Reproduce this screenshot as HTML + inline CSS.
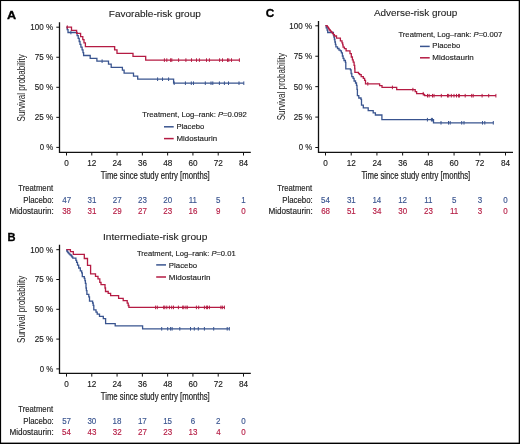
<!DOCTYPE html>
<html><head><meta charset="utf-8"><title>Kaplan-Meier survival by risk group</title><style>html,body{margin:0;padding:0;background:#fff;width:520px;height:444px;overflow:hidden;font-family:"Liberation Sans",sans-serif}</style></head><body>
<svg width="520" height="444" viewBox="0 0 520 444" style="position:absolute;left:0;top:0;will-change:transform" font-family='"Liberation Sans", sans-serif' fill="#1c1c1c">
<rect x="0" y="0" width="520" height="444" fill="#fff"/>
<path d="M59.50 22.30V152.30H250.80" fill="none" stroke="#111" stroke-width="1.3"/>
<path d="M56.30 147.40H59.50M56.30 117.35H59.50M56.30 87.30H59.50M56.30 57.25H59.50M56.30 27.20H59.50M66.50 152.30V155.50M91.79 152.30V155.50M117.07 152.30V155.50M142.36 152.30V155.50M167.64 152.30V155.50M192.93 152.30V155.50M218.21 152.30V155.50M243.50 152.30V155.50" fill="none" stroke="#111" stroke-width="1"/>
<text x="39.69" y="150.25" font-size="8.6" textLength="13.38" lengthAdjust="spacingAndGlyphs" stroke="#1c1c1c" stroke-width="0.15">0 %</text>
<text x="34.70" y="120.20" font-size="8.6" textLength="18.39" lengthAdjust="spacingAndGlyphs" stroke="#1c1c1c" stroke-width="0.15">25 %</text>
<text x="34.78" y="90.15" font-size="8.6" textLength="18.30" lengthAdjust="spacingAndGlyphs" stroke="#1c1c1c" stroke-width="0.15">50 %</text>
<text x="34.68" y="60.10" font-size="8.6" textLength="18.41" lengthAdjust="spacingAndGlyphs" stroke="#1c1c1c" stroke-width="0.15">75 %</text>
<text x="30.29" y="30.05" font-size="8.6" textLength="22.80" lengthAdjust="spacingAndGlyphs" stroke="#1c1c1c" stroke-width="0.15">100 %</text>
<text x="64.32" y="165.60" font-size="8.6" textLength="4.54" lengthAdjust="spacingAndGlyphs" stroke="#1c1c1c" stroke-width="0.15">0</text>
<text x="87.24" y="165.60" font-size="8.6" textLength="9.09" lengthAdjust="spacingAndGlyphs" stroke="#1c1c1c" stroke-width="0.15">12</text>
<text x="112.55" y="165.60" font-size="8.6" textLength="9.09" lengthAdjust="spacingAndGlyphs" stroke="#1c1c1c" stroke-width="0.15">24</text>
<text x="137.94" y="165.60" font-size="8.6" textLength="9.09" lengthAdjust="spacingAndGlyphs" stroke="#1c1c1c" stroke-width="0.15">36</text>
<text x="163.29" y="165.60" font-size="8.6" textLength="9.09" lengthAdjust="spacingAndGlyphs" stroke="#1c1c1c" stroke-width="0.15">48</text>
<text x="188.44" y="165.60" font-size="8.6" textLength="9.09" lengthAdjust="spacingAndGlyphs" stroke="#1c1c1c" stroke-width="0.15">60</text>
<text x="213.76" y="165.60" font-size="8.6" textLength="9.09" lengthAdjust="spacingAndGlyphs" stroke="#1c1c1c" stroke-width="0.15">72</text>
<text x="239.00" y="165.60" font-size="8.6" textLength="9.09" lengthAdjust="spacingAndGlyphs" stroke="#1c1c1c" stroke-width="0.15">84</text>
<path d="M59.50 244.80V373.40H250.80" fill="none" stroke="#111" stroke-width="1.3"/>
<path d="M56.30 368.90H59.50M56.30 339.10H59.50M56.30 309.30H59.50M56.30 279.50H59.50M56.30 249.70H59.50M66.50 373.40V376.60M91.79 373.40V376.60M117.07 373.40V376.60M142.36 373.40V376.60M167.64 373.40V376.60M192.93 373.40V376.60M218.21 373.40V376.60M243.50 373.40V376.60" fill="none" stroke="#111" stroke-width="1"/>
<text x="39.69" y="371.75" font-size="8.6" textLength="13.38" lengthAdjust="spacingAndGlyphs" stroke="#1c1c1c" stroke-width="0.15">0 %</text>
<text x="34.70" y="341.95" font-size="8.6" textLength="18.39" lengthAdjust="spacingAndGlyphs" stroke="#1c1c1c" stroke-width="0.15">25 %</text>
<text x="34.78" y="312.15" font-size="8.6" textLength="18.30" lengthAdjust="spacingAndGlyphs" stroke="#1c1c1c" stroke-width="0.15">50 %</text>
<text x="34.68" y="282.35" font-size="8.6" textLength="18.41" lengthAdjust="spacingAndGlyphs" stroke="#1c1c1c" stroke-width="0.15">75 %</text>
<text x="30.29" y="252.55" font-size="8.6" textLength="22.80" lengthAdjust="spacingAndGlyphs" stroke="#1c1c1c" stroke-width="0.15">100 %</text>
<text x="64.32" y="386.60" font-size="8.6" textLength="4.54" lengthAdjust="spacingAndGlyphs" stroke="#1c1c1c" stroke-width="0.15">0</text>
<text x="87.24" y="386.60" font-size="8.6" textLength="9.09" lengthAdjust="spacingAndGlyphs" stroke="#1c1c1c" stroke-width="0.15">12</text>
<text x="112.55" y="386.60" font-size="8.6" textLength="9.09" lengthAdjust="spacingAndGlyphs" stroke="#1c1c1c" stroke-width="0.15">24</text>
<text x="137.94" y="386.60" font-size="8.6" textLength="9.09" lengthAdjust="spacingAndGlyphs" stroke="#1c1c1c" stroke-width="0.15">36</text>
<text x="163.29" y="386.60" font-size="8.6" textLength="9.09" lengthAdjust="spacingAndGlyphs" stroke="#1c1c1c" stroke-width="0.15">48</text>
<text x="188.44" y="386.60" font-size="8.6" textLength="9.09" lengthAdjust="spacingAndGlyphs" stroke="#1c1c1c" stroke-width="0.15">60</text>
<text x="213.76" y="386.60" font-size="8.6" textLength="9.09" lengthAdjust="spacingAndGlyphs" stroke="#1c1c1c" stroke-width="0.15">72</text>
<text x="239.00" y="386.60" font-size="8.6" textLength="9.09" lengthAdjust="spacingAndGlyphs" stroke="#1c1c1c" stroke-width="0.15">84</text>
<path d="M318.50 21.10V152.30H513.00" fill="none" stroke="#111" stroke-width="1.3"/>
<path d="M315.30 147.50H318.50M315.30 117.08H318.50M315.30 86.65H318.50M315.30 56.22H318.50M315.30 25.80H318.50M325.50 152.30V155.50M351.21 152.30V155.50M376.93 152.30V155.50M402.64 152.30V155.50M428.36 152.30V155.50M454.07 152.30V155.50M479.79 152.30V155.50M505.50 152.30V155.50" fill="none" stroke="#111" stroke-width="1"/>
<text x="298.69" y="150.35" font-size="8.6" textLength="13.38" lengthAdjust="spacingAndGlyphs" stroke="#1c1c1c" stroke-width="0.15">0 %</text>
<text x="293.70" y="119.92" font-size="8.6" textLength="18.39" lengthAdjust="spacingAndGlyphs" stroke="#1c1c1c" stroke-width="0.15">25 %</text>
<text x="293.78" y="89.50" font-size="8.6" textLength="18.30" lengthAdjust="spacingAndGlyphs" stroke="#1c1c1c" stroke-width="0.15">50 %</text>
<text x="293.68" y="59.07" font-size="8.6" textLength="18.41" lengthAdjust="spacingAndGlyphs" stroke="#1c1c1c" stroke-width="0.15">75 %</text>
<text x="289.29" y="28.65" font-size="8.6" textLength="22.80" lengthAdjust="spacingAndGlyphs" stroke="#1c1c1c" stroke-width="0.15">100 %</text>
<text x="323.32" y="165.60" font-size="8.6" textLength="4.54" lengthAdjust="spacingAndGlyphs" stroke="#1c1c1c" stroke-width="0.15">0</text>
<text x="346.67" y="165.60" font-size="8.6" textLength="9.09" lengthAdjust="spacingAndGlyphs" stroke="#1c1c1c" stroke-width="0.15">12</text>
<text x="372.40" y="165.60" font-size="8.6" textLength="9.09" lengthAdjust="spacingAndGlyphs" stroke="#1c1c1c" stroke-width="0.15">24</text>
<text x="398.22" y="165.60" font-size="8.6" textLength="9.09" lengthAdjust="spacingAndGlyphs" stroke="#1c1c1c" stroke-width="0.15">36</text>
<text x="424.00" y="165.60" font-size="8.6" textLength="9.09" lengthAdjust="spacingAndGlyphs" stroke="#1c1c1c" stroke-width="0.15">48</text>
<text x="449.58" y="165.60" font-size="8.6" textLength="9.09" lengthAdjust="spacingAndGlyphs" stroke="#1c1c1c" stroke-width="0.15">60</text>
<text x="475.34" y="165.60" font-size="8.6" textLength="9.09" lengthAdjust="spacingAndGlyphs" stroke="#1c1c1c" stroke-width="0.15">72</text>
<text x="501.00" y="165.60" font-size="8.6" textLength="9.09" lengthAdjust="spacingAndGlyphs" stroke="#1c1c1c" stroke-width="0.15">84</text>
<text x="6.97" y="18.60" font-size="11.3" textLength="9.16" lengthAdjust="spacingAndGlyphs" fill="#000" stroke="#000" stroke-width="0.3" font-weight="bold">A</text>
<text x="7.46" y="240.80" font-size="11.3" textLength="8.05" lengthAdjust="spacingAndGlyphs" fill="#000" stroke="#000" stroke-width="0.3" font-weight="bold">B</text>
<text x="265.70" y="16.90" font-size="11.6" textLength="8.53" lengthAdjust="spacingAndGlyphs" fill="#000" stroke="#000" stroke-width="0.3" font-weight="bold">C</text>
<text x="108.78" y="16.90" font-size="9.9" textLength="92.05" lengthAdjust="spacingAndGlyphs" stroke="#1c1c1c" stroke-width="0.1">Favorable-risk group</text>
<text x="102.97" y="239.50" font-size="9.9" textLength="104.36" lengthAdjust="spacingAndGlyphs" stroke="#1c1c1c" stroke-width="0.1">Intermediate-risk group</text>
<text x="373.98" y="15.70" font-size="9.9" textLength="83.34" lengthAdjust="spacingAndGlyphs" stroke="#1c1c1c" stroke-width="0.1">Adverse-risk group</text>
<text x="100.73" y="179.40" font-size="10.1" textLength="109.02" lengthAdjust="spacingAndGlyphs" stroke="#1c1c1c" stroke-width="0.2">Time since study entry [months]</text>
<text x="100.73" y="400.40" font-size="10.1" textLength="109.02" lengthAdjust="spacingAndGlyphs" stroke="#1c1c1c" stroke-width="0.2">Time since study entry [months]</text>
<text x="361.43" y="179.00" font-size="10.1" textLength="108.82" lengthAdjust="spacingAndGlyphs" stroke="#1c1c1c" stroke-width="0.2">Time since study entry [months]</text>
<g transform="translate(25.40 121.10) rotate(-90)"><text x="-0.37" y="0" font-size="10.6" textLength="67.29" lengthAdjust="spacingAndGlyphs">Survival probability</text></g>
<g transform="translate(25.40 342.60) rotate(-90)"><text x="-0.37" y="0" font-size="10.6" textLength="67.29" lengthAdjust="spacingAndGlyphs">Survival probability</text></g>
<g transform="translate(284.60 119.90) rotate(-90)"><text x="-0.37" y="0" font-size="10.6" textLength="67.19" lengthAdjust="spacingAndGlyphs">Survival probability</text></g>
<text x="142.33" y="117.00" font-size="7.8" textLength="104.56" lengthAdjust="spacingAndGlyphs" stroke="#1c1c1c" stroke-width="0.15">Treatment, Log–rank: <tspan font-style="italic">P</tspan>=0.092</text>
<path d="M164.00 126.80H173.70" stroke="#39548f" stroke-width="1.5"/>
<path d="M164.00 138.60H173.70" stroke="#b51b43" stroke-width="1.5"/>
<text x="176.47" y="129.30" font-size="8.0" textLength="27.75" lengthAdjust="spacingAndGlyphs" stroke="#1c1c1c" stroke-width="0.15">Placebo</text>
<text x="176.46" y="141.10" font-size="8.0" textLength="40.66" lengthAdjust="spacingAndGlyphs" stroke="#1c1c1c" stroke-width="0.15">Midostaurin</text>
<text x="136.93" y="255.90" font-size="7.8" textLength="98.74" lengthAdjust="spacingAndGlyphs" stroke="#1c1c1c" stroke-width="0.15">Treatment, Log–rank: <tspan font-style="italic">P</tspan>=0.01</text>
<path d="M156.20 264.90H166.00" stroke="#39548f" stroke-width="1.5"/>
<path d="M156.20 277.00H166.00" stroke="#b51b43" stroke-width="1.5"/>
<text x="168.86" y="267.80" font-size="8.0" textLength="28.27" lengthAdjust="spacingAndGlyphs" stroke="#1c1c1c" stroke-width="0.15">Placebo</text>
<text x="168.84" y="279.60" font-size="8.0" textLength="41.58" lengthAdjust="spacingAndGlyphs" stroke="#1c1c1c" stroke-width="0.15">Midostaurin</text>
<text x="398.43" y="36.60" font-size="7.8" textLength="103.86" lengthAdjust="spacingAndGlyphs" stroke="#1c1c1c" stroke-width="0.15">Treatment, Log–rank: <tspan font-style="italic">P</tspan>=0.007</text>
<path d="M420.00 46.40H429.70" stroke="#39548f" stroke-width="1.5"/>
<path d="M420.00 57.80H429.70" stroke="#b51b43" stroke-width="1.5"/>
<text x="432.37" y="48.40" font-size="8.0" textLength="27.85" lengthAdjust="spacingAndGlyphs" stroke="#1c1c1c" stroke-width="0.15">Placebo</text>
<text x="432.34" y="60.10" font-size="8.0" textLength="41.48" lengthAdjust="spacingAndGlyphs" stroke="#1c1c1c" stroke-width="0.15">Midostaurin</text>
<text x="18.33" y="191.00" font-size="8.4" textLength="34.73" lengthAdjust="spacingAndGlyphs" stroke="#1c1c1c" stroke-width="0.15">Treatment</text>
<text x="23.16" y="202.60" font-size="8.4" textLength="30.56" lengthAdjust="spacingAndGlyphs" stroke="#1c1c1c" stroke-width="0.15">Placebo:</text>
<text x="9.43" y="213.60" font-size="8.4" textLength="44.32" lengthAdjust="spacingAndGlyphs" stroke="#1c1c1c" stroke-width="0.15">Midostaurin:</text>
<text x="62.27" y="202.70" font-size="8.4" textLength="8.88" lengthAdjust="spacingAndGlyphs" fill="#39548f" stroke="#39548f" stroke-width="0.14">47</text>
<text x="62.19" y="213.70" font-size="8.4" textLength="8.88" lengthAdjust="spacingAndGlyphs" fill="#b51b43" stroke="#b51b43" stroke-width="0.14">38</text>
<text x="87.49" y="202.70" font-size="8.4" textLength="8.88" lengthAdjust="spacingAndGlyphs" fill="#39548f" stroke="#39548f" stroke-width="0.14">31</text>
<text x="87.49" y="213.70" font-size="8.4" textLength="8.88" lengthAdjust="spacingAndGlyphs" fill="#b51b43" stroke="#b51b43" stroke-width="0.14">31</text>
<text x="112.73" y="202.70" font-size="8.4" textLength="8.88" lengthAdjust="spacingAndGlyphs" fill="#39548f" stroke="#39548f" stroke-width="0.14">27</text>
<text x="112.73" y="213.70" font-size="8.4" textLength="8.88" lengthAdjust="spacingAndGlyphs" fill="#b51b43" stroke="#b51b43" stroke-width="0.14">29</text>
<text x="138.00" y="202.70" font-size="8.4" textLength="8.88" lengthAdjust="spacingAndGlyphs" fill="#39548f" stroke="#39548f" stroke-width="0.14">23</text>
<text x="138.02" y="213.70" font-size="8.4" textLength="8.88" lengthAdjust="spacingAndGlyphs" fill="#b51b43" stroke="#b51b43" stroke-width="0.14">27</text>
<text x="163.26" y="202.70" font-size="8.4" textLength="8.88" lengthAdjust="spacingAndGlyphs" fill="#39548f" stroke="#39548f" stroke-width="0.14">20</text>
<text x="163.28" y="213.70" font-size="8.4" textLength="8.88" lengthAdjust="spacingAndGlyphs" fill="#b51b43" stroke="#b51b43" stroke-width="0.14">23</text>
<text x="188.78" y="202.70" font-size="8.4" textLength="8.28" lengthAdjust="spacingAndGlyphs" fill="#39548f" stroke="#39548f" stroke-width="0.14">11</text>
<text x="188.46" y="213.70" font-size="8.4" textLength="8.88" lengthAdjust="spacingAndGlyphs" fill="#b51b43" stroke="#b51b43" stroke-width="0.14">16</text>
<text x="216.10" y="202.70" font-size="8.4" textLength="4.44" lengthAdjust="spacingAndGlyphs" fill="#39548f" stroke="#39548f" stroke-width="0.14">5</text>
<text x="216.10" y="213.70" font-size="8.4" textLength="4.44" lengthAdjust="spacingAndGlyphs" fill="#b51b43" stroke="#b51b43" stroke-width="0.14">9</text>
<text x="241.27" y="202.70" font-size="8.4" textLength="4.44" lengthAdjust="spacingAndGlyphs" fill="#39548f" stroke="#39548f" stroke-width="0.14">1</text>
<text x="241.37" y="213.70" font-size="8.4" textLength="4.44" lengthAdjust="spacingAndGlyphs" fill="#b51b43" stroke="#b51b43" stroke-width="0.14">0</text>
<text x="18.33" y="412.30" font-size="8.4" textLength="34.73" lengthAdjust="spacingAndGlyphs" stroke="#1c1c1c" stroke-width="0.15">Treatment</text>
<text x="23.16" y="423.90" font-size="8.4" textLength="30.56" lengthAdjust="spacingAndGlyphs" stroke="#1c1c1c" stroke-width="0.15">Placebo:</text>
<text x="9.43" y="434.90" font-size="8.4" textLength="44.32" lengthAdjust="spacingAndGlyphs" stroke="#1c1c1c" stroke-width="0.15">Midostaurin:</text>
<text x="62.20" y="424.00" font-size="8.4" textLength="8.88" lengthAdjust="spacingAndGlyphs" fill="#39548f" stroke="#39548f" stroke-width="0.14">57</text>
<text x="62.12" y="435.00" font-size="8.4" textLength="8.88" lengthAdjust="spacingAndGlyphs" fill="#b51b43" stroke="#b51b43" stroke-width="0.14">54</text>
<text x="87.45" y="424.00" font-size="8.4" textLength="8.88" lengthAdjust="spacingAndGlyphs" fill="#39548f" stroke="#39548f" stroke-width="0.14">30</text>
<text x="87.54" y="435.00" font-size="8.4" textLength="8.88" lengthAdjust="spacingAndGlyphs" fill="#b51b43" stroke="#b51b43" stroke-width="0.14">43</text>
<text x="112.61" y="424.00" font-size="8.4" textLength="8.88" lengthAdjust="spacingAndGlyphs" fill="#39548f" stroke="#39548f" stroke-width="0.14">18</text>
<text x="112.78" y="435.00" font-size="8.4" textLength="8.88" lengthAdjust="spacingAndGlyphs" fill="#b51b43" stroke="#b51b43" stroke-width="0.14">32</text>
<text x="137.92" y="424.00" font-size="8.4" textLength="8.88" lengthAdjust="spacingAndGlyphs" fill="#39548f" stroke="#39548f" stroke-width="0.14">17</text>
<text x="138.02" y="435.00" font-size="8.4" textLength="8.88" lengthAdjust="spacingAndGlyphs" fill="#b51b43" stroke="#b51b43" stroke-width="0.14">27</text>
<text x="163.17" y="424.00" font-size="8.4" textLength="8.88" lengthAdjust="spacingAndGlyphs" fill="#39548f" stroke="#39548f" stroke-width="0.14">15</text>
<text x="163.28" y="435.00" font-size="8.4" textLength="8.88" lengthAdjust="spacingAndGlyphs" fill="#b51b43" stroke="#b51b43" stroke-width="0.14">23</text>
<text x="190.79" y="424.00" font-size="8.4" textLength="4.44" lengthAdjust="spacingAndGlyphs" fill="#39548f" stroke="#39548f" stroke-width="0.14">6</text>
<text x="188.46" y="435.00" font-size="8.4" textLength="8.88" lengthAdjust="spacingAndGlyphs" fill="#b51b43" stroke="#b51b43" stroke-width="0.14">13</text>
<text x="216.10" y="424.00" font-size="8.4" textLength="4.44" lengthAdjust="spacingAndGlyphs" fill="#39548f" stroke="#39548f" stroke-width="0.14">2</text>
<text x="216.13" y="435.00" font-size="8.4" textLength="4.44" lengthAdjust="spacingAndGlyphs" fill="#b51b43" stroke="#b51b43" stroke-width="0.14">4</text>
<text x="241.37" y="424.00" font-size="8.4" textLength="4.44" lengthAdjust="spacingAndGlyphs" fill="#39548f" stroke="#39548f" stroke-width="0.14">0</text>
<text x="241.37" y="435.00" font-size="8.4" textLength="4.44" lengthAdjust="spacingAndGlyphs" fill="#b51b43" stroke="#b51b43" stroke-width="0.14">0</text>
<text x="277.33" y="191.00" font-size="8.4" textLength="34.73" lengthAdjust="spacingAndGlyphs" stroke="#1c1c1c" stroke-width="0.15">Treatment</text>
<text x="282.16" y="202.60" font-size="8.4" textLength="30.56" lengthAdjust="spacingAndGlyphs" stroke="#1c1c1c" stroke-width="0.15">Placebo:</text>
<text x="268.43" y="213.60" font-size="8.4" textLength="44.32" lengthAdjust="spacingAndGlyphs" stroke="#1c1c1c" stroke-width="0.15">Midostaurin:</text>
<text x="321.12" y="202.70" font-size="8.4" textLength="8.88" lengthAdjust="spacingAndGlyphs" fill="#39548f" stroke="#39548f" stroke-width="0.14">54</text>
<text x="321.14" y="213.70" font-size="8.4" textLength="8.88" lengthAdjust="spacingAndGlyphs" fill="#b51b43" stroke="#b51b43" stroke-width="0.14">68</text>
<text x="346.92" y="202.70" font-size="8.4" textLength="8.88" lengthAdjust="spacingAndGlyphs" fill="#39548f" stroke="#39548f" stroke-width="0.14">31</text>
<text x="346.91" y="213.70" font-size="8.4" textLength="8.88" lengthAdjust="spacingAndGlyphs" fill="#b51b43" stroke="#b51b43" stroke-width="0.14">51</text>
<text x="372.41" y="202.70" font-size="8.4" textLength="8.88" lengthAdjust="spacingAndGlyphs" fill="#39548f" stroke="#39548f" stroke-width="0.14">14</text>
<text x="372.56" y="213.70" font-size="8.4" textLength="8.88" lengthAdjust="spacingAndGlyphs" fill="#b51b43" stroke="#b51b43" stroke-width="0.14">34</text>
<text x="398.20" y="202.70" font-size="8.4" textLength="8.88" lengthAdjust="spacingAndGlyphs" fill="#39548f" stroke="#39548f" stroke-width="0.14">12</text>
<text x="398.31" y="213.70" font-size="8.4" textLength="8.88" lengthAdjust="spacingAndGlyphs" fill="#b51b43" stroke="#b51b43" stroke-width="0.14">30</text>
<text x="424.20" y="202.70" font-size="8.4" textLength="8.28" lengthAdjust="spacingAndGlyphs" fill="#39548f" stroke="#39548f" stroke-width="0.14">11</text>
<text x="424.00" y="213.70" font-size="8.4" textLength="8.88" lengthAdjust="spacingAndGlyphs" fill="#b51b43" stroke="#b51b43" stroke-width="0.14">23</text>
<text x="451.96" y="202.70" font-size="8.4" textLength="4.44" lengthAdjust="spacingAndGlyphs" fill="#39548f" stroke="#39548f" stroke-width="0.14">5</text>
<text x="449.92" y="213.70" font-size="8.4" textLength="8.28" lengthAdjust="spacingAndGlyphs" fill="#b51b43" stroke="#b51b43" stroke-width="0.14">11</text>
<text x="477.69" y="202.70" font-size="8.4" textLength="4.44" lengthAdjust="spacingAndGlyphs" fill="#39548f" stroke="#39548f" stroke-width="0.14">3</text>
<text x="477.69" y="213.70" font-size="8.4" textLength="4.44" lengthAdjust="spacingAndGlyphs" fill="#b51b43" stroke="#b51b43" stroke-width="0.14">3</text>
<text x="503.37" y="202.70" font-size="8.4" textLength="4.44" lengthAdjust="spacingAndGlyphs" fill="#39548f" stroke="#39548f" stroke-width="0.14">0</text>
<text x="503.37" y="213.70" font-size="8.4" textLength="4.44" lengthAdjust="spacingAndGlyphs" fill="#b51b43" stroke="#b51b43" stroke-width="0.14">0</text>
<path d="M66.40 27.20H67.20V29.60H68.00V32.50H77.10V35.60H78.20V38.30H79.20V41.50H80.00V44.40H80.90V47.20H82.10V49.80H83.00V52.60H83.60V55.50H90.20V58.30H96.90V61.20H108.50V64.10H111.20V67.30H122.40V70.10H124.10V73.20H133.50V76.20H137.70V79.20H173.60V83.20H243.80" fill="none" stroke="#39548f" stroke-width="1.3"/>
<path d="M70.90 30.70V34.30M102.10 59.40V63.00M157.60 77.40V81.00M162.50 77.40V81.00M168.60 77.40V81.00M174.20 81.40V85.00M185.40 81.40V85.00M191.30 81.40V85.00M193.50 81.40V85.00M205.30 81.40V85.00M211.00 81.40V85.00M212.80 81.40V85.00M219.40 81.40V85.00M224.40 81.40V85.00M228.50 81.40V85.00M239.00 81.40V85.00M243.80 81.40V85.00" fill="none" stroke="#39548f" stroke-width="1"/>
<path d="M66.40 27.20H71.50V30.40H76.60V33.30H80.60V36.60H82.80V39.60H84.00V42.90H85.40V46.70H114.60V49.80H117.00V53.30H133.00V56.40H145.70V60.10H239.40" fill="none" stroke="#b51b43" stroke-width="1.3"/>
<path d="M67.30 25.40V29.00M114.60 46.20V49.80M164.40 58.30V61.90M166.80 58.30V61.90M170.60 58.30V61.90M171.80 58.30V61.90M178.60 58.30V61.90M185.90 58.30V61.90M191.50 58.30V61.90M196.50 58.30V61.90M199.40 58.30V61.90M206.50 58.30V61.90M209.40 58.30V61.90M219.60 58.30V61.90M222.50 58.30V61.90M227.50 58.30V61.90M228.80 58.30V61.90M231.50 58.30V61.90M239.40 58.30V61.90" fill="none" stroke="#b51b43" stroke-width="1"/>
<path d="M66.40 249.60H66.80V251.00H67.50V252.20H68.30V253.20H69.20V254.10H70.20V255.00H71.30V256.00H72.00V257.00H72.80V258.20H75.90V260.30H76.60V262.30H77.50V265.20H78.70V268.00H80.30V270.80H81.70V272.80H82.30V276.60H84.30V278.40H84.90V280.70H85.40V283.30H86.00V288.00H86.40V290.60H86.90V294.30H88.80V296.80H89.50V301.10H92.60V303.00H93.20V305.30H93.80V309.90H96.00V312.20H97.20V314.10H99.50V316.40H103.30V318.70H105.60V323.60H115.20V325.90H142.60V328.80H229.50" fill="none" stroke="#39548f" stroke-width="1.3"/>
<path d="M161.70 327.00V330.60M167.70 327.00V330.60M170.60 327.00V330.60M172.10 327.00V330.60M179.80 327.00V330.60M190.50 327.00V330.60M194.30 327.00V330.60M198.30 327.00V330.60M204.40 327.00V330.60M213.70 327.00V330.60M227.20 327.00V330.60M229.30 327.00V330.60" fill="none" stroke="#39548f" stroke-width="1"/>
<path d="M66.40 249.60H70.40V251.60H73.30V254.40H84.30V258.50H87.50V265.30H90.60V273.90H95.50V276.30H98.00V278.90H99.80V282.40H101.00V284.70H105.00V288.00H105.50V291.50H108.20V293.40H110.60V295.70H118.60V298.40H123.20V300.60H127.20V303.20H128.20V305.50H128.90V307.40H224.60" fill="none" stroke="#b51b43" stroke-width="1.3"/>
<path d="M155.60 305.60V309.20M157.30 305.60V309.20M163.70 305.60V309.20M164.80 305.60V309.20M166.80 305.60V309.20M169.40 305.60V309.20M171.70 305.60V309.20M173.50 305.60V309.20M178.40 305.60V309.20M182.70 305.60V309.20M183.80 305.60V309.20M185.90 305.60V309.20M187.30 305.60V309.20M196.40 305.60V309.20M198.70 305.60V309.20M204.40 305.60V309.20M206.40 305.60V309.20M207.50 305.60V309.20M209.40 305.60V309.20M220.90 305.60V309.20M222.30 305.60V309.20M224.40 305.60V309.20" fill="none" stroke="#b51b43" stroke-width="1"/>
<path d="M325.40 25.70H326.20V27.90H327.10V30.10H327.70V32.50H333.40V34.80H333.90V37.20H334.40V39.50H334.90V42.00H335.40V44.40H335.90V46.80H337.50V48.50H339.00V50.20H340.40V50.90H341.40V52.90H342.40V56.00H343.10V58.30H344.00V60.50H345.40V62.40H345.80V68.80H350.40V69.80H351.10V73.50H351.80V76.60H353.10V78.30H354.10V81.00H355.50V83.00H356.50V85.40H357.00V89.40H357.40V95.70H358.80V98.00H361.00V99.30H361.50V105.20H363.30V107.90H368.20V110.60H373.20V112.80H375.40V115.00H381.90V119.70H433.50V122.80H493.40" fill="none" stroke="#39548f" stroke-width="1.3"/>
<path d="M427.40 117.90V121.50M431.40 117.90V121.50M432.40 117.90V121.50M441.00 121.00V124.60M448.50 121.00V124.60M450.20 121.00V124.60M461.70 121.00V124.60M464.00 121.00V124.60M482.50 121.00V124.60M484.80 121.00V124.60M493.30 121.00V124.60" fill="none" stroke="#39548f" stroke-width="1"/>
<path d="M325.40 25.70H327.20V26.60H327.90V27.70H328.60V28.80H329.40V30.00H330.30V31.10H331.30V32.20H332.40V33.30H333.40V34.60H334.40V36.00H336.50V38.10H340.40V40.80H342.00V42.80H342.70V44.80H343.10V47.20H344.40V48.60H346.10V50.90H350.00V53.60H351.30V57.00H352.40V59.80H353.20V62.20H354.10V65.40H354.70V68.50H354.90V72.30H358.50V73.60H359.60V74.70H361.20V76.60H363.30V78.30H364.60V80.30H365.50V83.80H379.60V85.60H382.00V87.40H396.70V89.60H415.20V91.60H416.60V93.70H423.60V94.60H424.60V95.70H496.00" fill="none" stroke="#b51b43" stroke-width="1.3"/>
<path d="M367.80 82.00V85.60M392.40 85.60V89.20M412.90 87.80V91.40M423.20 91.90V95.50M427.50 93.90V97.50M429.10 93.90V97.50M432.50 93.90V97.50M434.00 93.90V97.50M441.30 93.90V97.50M447.50 93.90V97.50M448.70 93.90V97.50M451.30 93.90V97.50M454.00 93.90V97.50M456.50 93.90V97.50M458.60 93.90V97.50M459.40 93.90V97.50M465.20 93.90V97.50M471.70 93.90V97.50M473.20 93.90V97.50M482.10 93.90V97.50M488.70 93.90V97.50M495.90 93.90V97.50" fill="none" stroke="#b51b43" stroke-width="1"/>
<rect x="0" y="0" width="520" height="1.05" fill="#000"/>
<rect x="0" y="0" width="1.1" height="444" fill="#000"/>
<rect x="518.7" y="0" width="1.3" height="444" fill="#000"/>
<rect x="0" y="442.6" width="520" height="1.4" fill="#000"/>
</svg>
</body></html>
